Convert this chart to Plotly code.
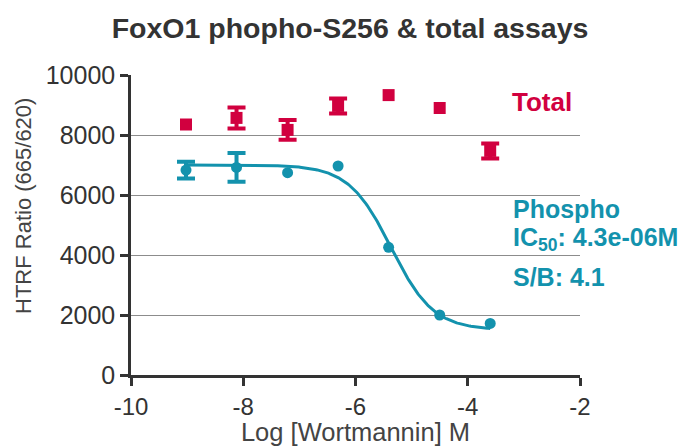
import numpy as np
import plotly.graph_objects as go

# Data
log_conc = [-9.02, -8.12, -7.21, -6.31, -5.41, -4.50, -3.60]
total_vals = [8350, 8570, 8170, 8970, 9330, 8900, 7470]
total_err = [0, 350, 330, 250, 0, 0, 250]
phospho_vals = [6830, 6920, 6745, 6967, 4255, 2000, 1720]
phospho_err = [280, 480, 0, 0, 0, 0, 0]

x_ticks = [-10, -8, -6, -4, -2]
x_tick_labels = ["-10", "-8", "-6", "-4", "-2"]
y_ticks = [0, 2000, 4000, 6000, 8000, 10000]
y_tick_labels = ["0", "2000", "4000", "6000", "8000", "10000"]

# 4PL fit parameters for the phospho curve
fit_top = 7000
fit_bottom = 1500
fit_log_ic50 = np.log10(4.3e-6)
fit_hill = 1.15

red = "#d1003f"
teal = "#1392ad"

xc = np.linspace(min(log_conc), max(log_conc), 300)
yc = fit_bottom + (fit_top - fit_bottom) / (1 + 10 ** (fit_hill * (xc - fit_log_ic50)))

fig = go.Figure()
fig.add_trace(go.Scatter(x=xc, y=yc, mode="lines", line=dict(color=teal, width=3),
                         hoverinfo="skip", showlegend=False))


def add_series(vals, errs, color, symbol, size):
    xs_e = [x for x, e in zip(log_conc, errs) if e > 0]
    ys_e = [v for v, e in zip(vals, errs) if e > 0]
    es = [e for e in errs if e > 0]
    xs_n = [x for x, e in zip(log_conc, errs) if e <= 0]
    ys_n = [v for v, e in zip(vals, errs) if e <= 0]
    fig.add_trace(go.Scatter(x=xs_e, y=ys_e, mode="markers",
                             marker=dict(symbol=symbol, size=size, color=color),
                             error_y=dict(type="data", array=es, color=color,
                                          thickness=4, width=9, visible=True),
                             showlegend=False))
    fig.add_trace(go.Scatter(x=xs_n, y=ys_n, mode="markers",
                             marker=dict(symbol=symbol, size=size, color=color),
                             showlegend=False))


add_series(phospho_vals, phospho_err, teal, "circle", 11)
add_series(total_vals, total_err, red, "square", 12)

# page body adds an 8px offset; compensate
OFF = 8
W, H = 689 - OFF, 446 - OFF
L, R, T, B = 131 - OFF, 580 - OFF, 75 - OFF, 375 - OFF

font_fam = "Liberation Sans, Arial, sans-serif"
fig.update_layout(
    width=W, height=H,
    margin=dict(l=L, r=W - R, t=T, b=H - B),
    paper_bgcolor="white", plot_bgcolor="white",
    font=dict(family=font_fam, color="#333333"),
    title=dict(text="<b>FoxO1 phopho-S256 & total assays</b>", x=(350 - OFF) / W, xanchor="center",
               y=1 - (28 - OFF) / H, yanchor="middle", font=dict(size=28.5, color="#333333")),
    xaxis=dict(range=[-10, -2], tickvals=x_ticks, ticktext=x_tick_labels, showgrid=False,
               zeroline=False, automargin=False,
               showline=True, linecolor="#333333", linewidth=2.5, ticks="outside",
               ticklen=8, tickwidth=2.5, tickcolor="#333333",
               tickfont=dict(size=24, color="#333333"),
               title=dict(text="Log [Wortmannin] M", font=dict(size=25.5, color="#444444"), standoff=16)),
    yaxis=dict(range=[0, 10000], tickvals=y_ticks, ticktext=y_tick_labels, showgrid=True,
               gridcolor="#8c8c8c", gridwidth=1, zeroline=False, automargin=False,
               showline=True, linecolor="#333333", linewidth=2.5, ticks="outside",
               ticklen=8, tickwidth=2.5, tickcolor="#333333",
               tickfont=dict(size=25, color="#333333")),
)


def px_to_paper(px, py):
    px -= OFF
    py -= OFF
    return (px - L) / (R - L), (B - py) / (B - T)


# y-axis title (placed slightly above the axis centre, as in the reference)
xa, ya = px_to_paper(23, 206)
fig.add_annotation(x=xa, y=ya, xref="paper", yref="paper", text="HTRF Ratio (665/620)",
                   textangle=-90, showarrow=False, xanchor="center", yanchor="middle",
                   font=dict(size=22, color="#444444"))

xa, ya = px_to_paper(510, 102)
fig.add_annotation(x=xa, y=ya, xref="paper", yref="paper", text="<b>Total</b>", showarrow=False,
                   font=dict(size=26, color=red), xanchor="left", yanchor="middle")
ann = [("<b>Phospho</b>", 209), ("<b>IC<sub>50</sub>: 4.3e-06M</b>", 239), ("<b>S/B: 4.1</b>", 277)]
for txt, yp in ann:
    xa, ya = px_to_paper(511, yp)
    fig.add_annotation(x=xa, y=ya, xref="paper", yref="paper", text=txt, showarrow=False,
                       font=dict(size=25, color=teal), xanchor="left", yanchor="middle", align="left")

fig.write_html("out.html")
